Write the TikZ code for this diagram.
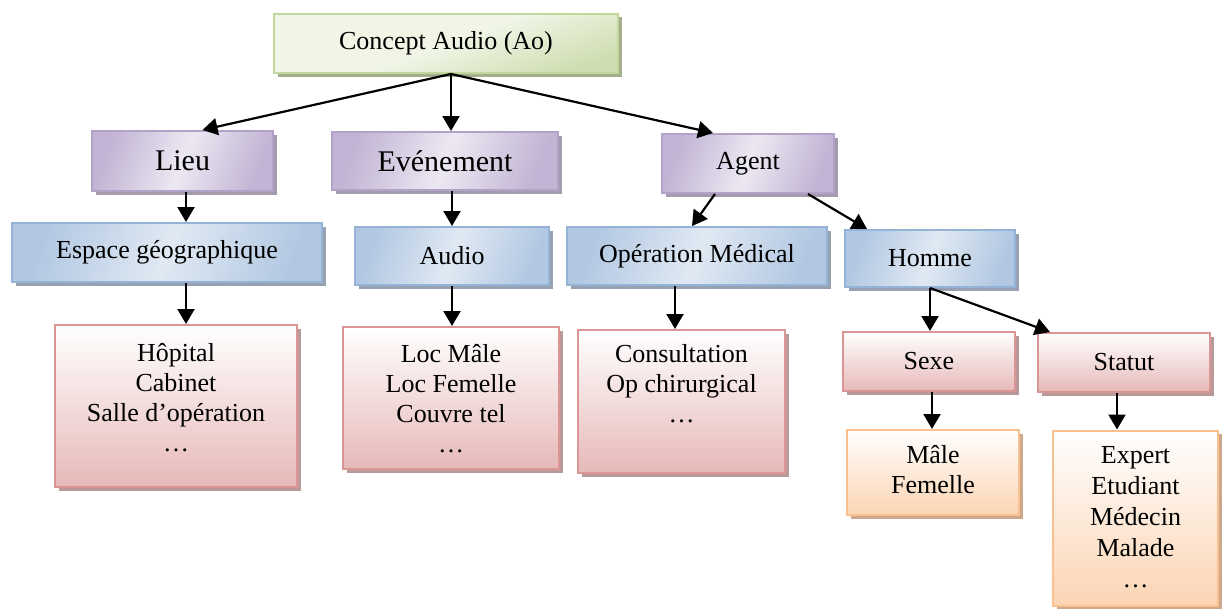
\documentclass[tikz,border=0pt]{standalone}
\usepackage{fontspec}
\setmainfont{Liberation Serif}
\usetikzlibrary{arrows.meta,shadows}

% palette: border, light fill, dark fill, shadow
\definecolor{grB}{HTML}{C3D69B}\definecolor{grL}{HTML}{F0F5E6}\definecolor{grD}{HTML}{CFDEB2}\definecolor{grS}{HTML}{A3AE8C}
\definecolor{puB}{HTML}{B3A2C7}\definecolor{puL}{HTML}{ECE8F2}\definecolor{puD}{HTML}{C2B4D4}\definecolor{puS}{HTML}{A49CAE}
\definecolor{blB}{HTML}{95B3D7}\definecolor{blL}{HTML}{E0E9F3}\definecolor{blD}{HTML}{B2C8E2}\definecolor{blS}{HTML}{96A2B2}
\definecolor{rdB}{HTML}{D99694}\definecolor{rdD}{HTML}{E6B9B8}\definecolor{rdS}{HTML}{B89A9A}
\definecolor{orB}{HTML}{FAC090}\definecolor{orD}{HTML}{FBD4B4}\definecolor{orS}{HTML}{CDA88A}

\tikzset{
  box/.style={rectangle, line width=2pt, inner sep=0pt,
    font=\fontsize{26}{30}\selectfont},
  bigtext/.style={font=\fontsize{30}{34}\selectfont},
  greenbox/.style={box, draw=grB, top color=grD, bottom color=grL, middle color=grL, shading angle=200,
    general shadow={fill=grS, shadow xshift=3.5pt, shadow yshift=-3.5pt}},
  purplebox/.style={box, draw=puB, top color=puD, bottom color=puD, middle color=puL, shading angle=70,
    general shadow={fill=puS, shadow xshift=3.5pt, shadow yshift=-3.5pt}},
  bluebox/.style={box, draw=blB, top color=blD, bottom color=blD, middle color=blL, shading angle=70,
    general shadow={fill=blS, shadow xshift=3.5pt, shadow yshift=-3.5pt}},
  redbox/.style={box, draw=rdB, top color=white, bottom color=rdD,
    general shadow={fill=rdS, shadow xshift=3.5pt, shadow yshift=-3.5pt}},
  orangebox/.style={box, draw=orB, top color=white, bottom color=orD,
    general shadow={fill=orS, shadow xshift=3.5pt, shadow yshift=-3.5pt}},
  listtext/.style={anchor=base, inner sep=0pt, font=\fontsize{26}{30}\selectfont},
  arr/.style={line width=2.2pt, -{Triangle[length=15pt,width=17pt]}},
}

\newcommand{\stack}[1]{\setlength{\tabcolsep}{0pt}\begin{tabular}[t]{c}#1\end{tabular}}

\begin{document}
\begin{tikzpicture}[x=1pt, y=-1pt]
  \useasboundingbox (0,0) rectangle (1222,610);

  % root
  \node[greenbox, minimum width=344pt, minimum height=59pt] (concept) at (446,43.5) {Concept Audio (Ao)};

  % first level
  \node[purplebox, bigtext, minimum width=181pt, minimum height=60pt] (lieu) at (182.5,161) {Lieu};
  \node[purplebox, bigtext, minimum width=226pt, minimum height=58pt] (even) at (445,161) {Evénement};
  \node[purplebox, minimum width=172pt, minimum height=59pt] (agent) at (748,163.5) {Agent};

  % second level
  \node[bluebox, minimum width=310pt, minimum height=59pt] (espace) at (167,252.5) {Espace géographique};
  \node[bluebox, minimum width=194pt, minimum height=58pt] (audio) at (452,256) {Audio};
  \node[bluebox, minimum width=260pt, minimum height=58pt] (operation) at (697,256) {Opération Médical};
  \node[bluebox, minimum width=170pt, minimum height=57pt] (homme) at (930,258.5) {Homme};

  % lists
  \node[redbox, minimum width=242pt, minimum height=162pt] (hopital) at (176,406) {};
  \node[listtext] (hopitalT) at ([yshift=-37pt]hopital.north) {\stack{Hôpital\\Cabinet\\Salle d’opération\\…}};

  \node[redbox, minimum width=216pt, minimum height=142pt] (loc) at (451,398) {};
  \node[listtext] (locT) at ([yshift=-36pt]loc.north) {\stack{Loc Mâle\\Loc Femelle\\Couvre tel\\…}};

  \node[redbox, minimum width=207pt, minimum height=143pt] (consult) at (681.5,401.5) {};
  \node[listtext] (consultT) at ([yshift=-33pt]consult.north) {\stack{Consultation\\Op chirurgical\\…}};

  % Homme branch
  \node[redbox, minimum width=172pt, minimum height=59pt] (sexe) at (929,361.5) {Sexe};
  \node[redbox, minimum width=172pt, minimum height=59pt] (statut) at (1124,362.5) {Statut};

  \node[orangebox, minimum width=172pt, minimum height=85pt] (male) at (933,472.5) {};
  \node[listtext] (maleT) at ([yshift=-34pt]male.north) {\stack{Mâle\\Femelle}};

  \node[orangebox, minimum width=165pt, minimum height=175pt] (expert) at (1135.5,518) {};
  \node[listtext, font=\fontsize{26}{31}\selectfont] (expertT) at ([yshift=-34pt]expert.north) {\stack{Expert\\Etudiant\\Médecin\\Malade\\…}};

  % connectors
  \draw[arr] ([xshift=5pt]concept.south) -- ([xshift=20pt]lieu.north);
  \draw[arr] ([xshift=5pt]concept.south) -- ([xshift=6pt]even.north);
  \draw[arr] ([xshift=5pt]concept.south) -- ([xshift=-35pt]agent.north);

  \draw[arr] ([xshift=3.5pt]lieu.south) -- ([xshift=19pt]espace.north);
  \draw[arr] ([xshift=7pt]even.south) -- (audio.north);
  \draw[arr] ([xshift=-33pt]agent.south) -- ([xshift=-5pt]operation.north);
  \draw[arr] ([xshift=60pt]agent.south) -- ([xshift=-63pt]homme.north);

  \draw[arr] ([xshift=19pt]espace.south) -- ([xshift=10pt]hopital.north);
  \draw[arr] (audio.south) -- ([xshift=1pt]loc.north);
  \draw[arr] ([xshift=-22pt]operation.south) -- ([xshift=-6.5pt]consult.north);

  \draw[arr] (homme.south) -- ([xshift=1pt]sexe.north);
  \draw[arr] (homme.south) -- ([xshift=-74pt]statut.north);
  \draw[arr] ([xshift=3pt]sexe.south) -- ([xshift=-1pt]male.north);
  \draw[arr] ([xshift=-7pt]statut.south) -- ([xshift=-18.5pt]expert.north);
\end{tikzpicture}
\end{document}
